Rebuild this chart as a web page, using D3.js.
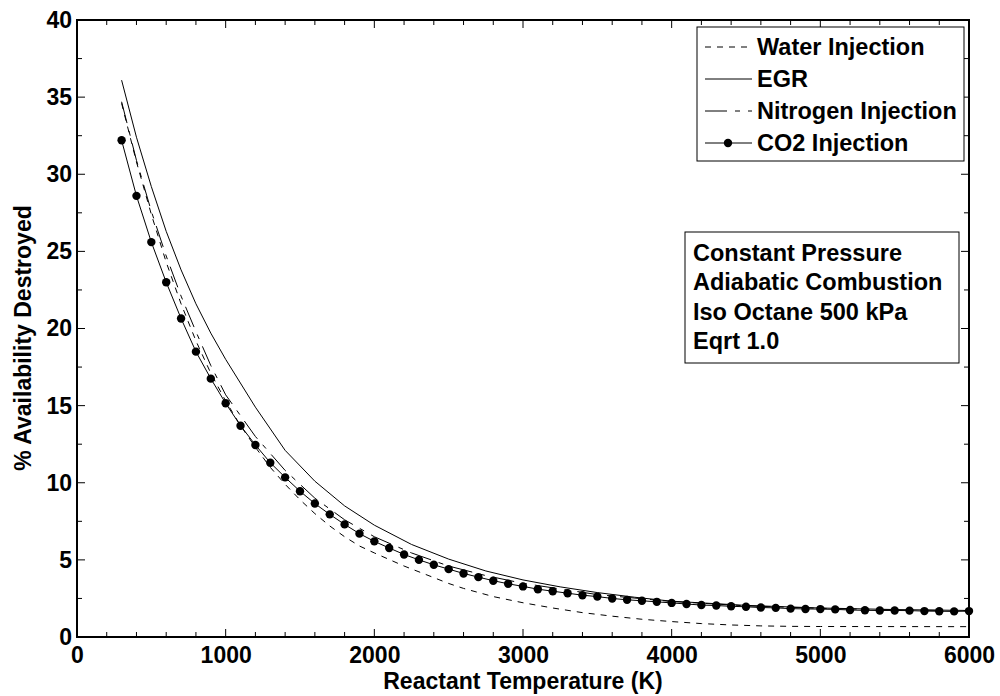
<!DOCTYPE html>
<html>
<head>
<meta charset="utf-8">
<script src="https://cdn.jsdelivr.net/npm/d3@7"></script>
<style>
  body { margin: 0; background: #fff; }
  svg text { font-family: "Liberation Sans", Arial, sans-serif; font-weight: bold; fill: #000; }
</style>
</head>
<body>
<svg id="chart"></svg>
<script>
// data
var co2Temps = [300, 400, 500, 600, 700, 800, 900, 1000, 1100, 1200, 1300, 1400, 1500, 1600, 1700, 1800, 1900, 2000,
    2100, 2200, 2300, 2400, 2500, 2600, 2700, 2800, 2900, 3000, 3100, 3200, 3300, 3400, 3500, 3600, 3700, 3800, 3900, 4000,
    4100, 4200, 4300, 4400, 4500, 4600, 4700, 4800, 4900, 5000, 5100, 5200, 5300, 5400, 5500, 5600, 5700, 5800, 5900, 6000];
var co2Values = [32.2, 28.6, 25.6, 23.0, 20.65, 18.5, 16.75, 15.15, 13.7, 12.45, 11.3, 10.35, 9.45, 8.65, 7.95, 7.3, 6.7, 6.2,
    5.77, 5.35, 5.0, 4.68, 4.4, 4.12, 3.88, 3.65, 3.45, 3.28, 3.1, 2.97, 2.84, 2.71, 2.62, 2.5, 2.41, 2.35, 2.28, 2.21,
    2.14, 2.07, 2.04, 1.99, 1.96, 1.91, 1.89, 1.84, 1.82, 1.81, 1.79, 1.75, 1.73, 1.72, 1.72, 1.71, 1.68, 1.67, 1.66, 1.68];

var egrTemps = [300, 400, 500, 600, 700, 800, 900, 1000, 1200, 1400, 1600, 1800, 2000, 2250, 2500, 2750, 3000, 3250, 3500, 3750, 4000, 4500, 5000, 5500, 6000];
var egrValues = [36.1, 32.4, 29.2, 26.3, 23.8, 21.6, 19.7, 18.0, 14.9, 12.1, 10.1, 8.5, 7.25, 6.0, 5.05, 4.28, 3.7, 3.25, 2.88, 2.58, 2.32, 2.05, 1.88, 1.78, 1.72];

var waterTemps = [300, 400, 500, 600, 700, 800, 900, 1000, 1100, 1200, 1300, 1400, 1500, 1600, 1700, 1800, 1900, 2000, 2200, 2400, 2500, 2600, 2800, 3000, 3200, 3400, 3600, 3800, 4000, 4200, 4400, 4600, 4800, 5000, 6000];
var waterValues = [34.6, 30.8, 27.4, 24.3, 21.6, 19.2, 17.1, 15.3, 13.7, 12.3, 11.0, 9.9, 8.9, 8.0, 7.2, 6.5, 5.9, 5.45, 4.6, 3.85, 3.47, 3.15, 2.62, 2.22, 1.88, 1.58, 1.35, 1.15, 1.0, 0.87, 0.78, 0.72, 0.69, 0.68, 0.67];

var nitroTemps = [300, 400, 500, 600, 700, 800, 900, 1000, 1200, 1400, 1600, 1800, 2000, 2250, 2500, 2750, 3000, 3500, 4000, 4500, 5000, 5500, 6000];
var nitroValues = [34.7, 30.9, 27.6, 24.7, 22.1, 19.8, 17.6, 15.7, 13.0, 10.8, 9.0, 7.6, 6.5, 5.45, 4.6, 3.98, 3.48, 2.75, 2.3, 2.02, 1.86, 1.76, 1.7];

var xTicks = [0, 1000, 2000, 3000, 4000, 5000, 6000];
var yTicks = [0, 5, 10, 15, 20, 25, 30, 35, 40];
var legendLabels = ['Water Injection', 'EGR', 'Nitrogen Injection', 'CO2 Injection'];
var noteLines = ['Constant Pressure', 'Adiabatic Combustion', 'Iso Octane 500 kPa', 'Eqrt 1.0'];

var width = 1000, height = 696;
var plotLeft = 77, plotRight = 969, plotTop = 20, plotBottom = 637;

var svg = d3.select('#chart').attr('width', width).attr('height', height);

var x = d3.scaleLinear().domain([0, 6000]).range([plotLeft, plotRight]);
var y = d3.scaleLinear().domain([0, 40]).range([plotBottom, plotTop]);

// 刻度（朝内，四边都有）
function drawTicks() {
    var minorX = d3.range(0, 6001, 200), minorY = d3.range(0, 40.01, 2.5);
    var g = svg.append('g').attr('stroke', '#000').attr('stroke-width', 1);
    minorX.forEach(function(v) {
        var len = v % 1000 === 0 ? 8 : 5;
        g.append('line').attr('x1', x(v)).attr('x2', x(v)).attr('y1', plotBottom).attr('y2', plotBottom - len);
        g.append('line').attr('x1', x(v)).attr('x2', x(v)).attr('y1', plotTop).attr('y2', plotTop + len);
    });
    minorY.forEach(function(v) {
        var len = v % 5 === 0 ? 8 : 5;
        g.append('line').attr('x1', plotLeft).attr('x2', plotLeft + len).attr('y1', y(v)).attr('y2', y(v));
        g.append('line').attr('x1', plotRight).attr('x2', plotRight - len).attr('y1', y(v)).attr('y2', y(v));
    });
}
drawTicks();

// 坐标轴标签
var xAxis = d3.axisBottom(x).tickValues(xTicks).tickSize(0).tickPadding(10).tickFormat(d3.format('d'));
var gx = svg.append('g').attr('transform', 'translate(0,' + plotBottom + ')').call(xAxis);
gx.select('.domain').remove();
gx.selectAll('text').attr('font-size', '23px').attr('font-family', null);

var yAxis = d3.axisLeft(y).tickValues(yTicks).tickSize(0).tickPadding(5).tickFormat(d3.format('d'));
var gy = svg.append('g').attr('transform', 'translate(' + plotLeft + ',0)').call(yAxis);
gy.select('.domain').remove();
gy.selectAll('text').attr('font-size', '23px').attr('font-family', null);

svg.append('text').attr('x', 523).attr('y', 689).attr('text-anchor', 'middle')
    .attr('font-size', '23px').text('Reactant Temperature (K)');
svg.append('text').attr('transform', 'translate(31,338) rotate(-90)').attr('text-anchor', 'middle')
    .attr('font-size', '23px').text('% Availability Destroyed');

// 曲线
var line = d3.line().x(function(d) { return x(d[0]); }).y(function(d) { return y(d[1]); });
var series = [
    {temps: waterTemps, values: waterValues, dash: '6,6'},
    {temps: egrTemps, values: egrValues, dash: null},
    {temps: nitroTemps, values: nitroValues, dash: '22,8,5,8'},
    {temps: co2Temps, values: co2Values, dash: null}
];
series.forEach(function(s) {
    svg.append('path')
        .datum(d3.zip(s.temps, s.values))
        .attr('fill', 'none')
        .attr('stroke', '#000')
        .attr('stroke-width', 1)
        .attr('stroke-dasharray', s.dash)
        .attr('d', line);
});
svg.selectAll('circle.co2')
    .data(d3.zip(co2Temps, co2Values))
    .enter()
    .append('circle')
    .attr('class', 'co2')
    .attr('cx', function(d) { return x(d[0]); })
    .attr('cy', function(d) { return y(d[1]); })
    .attr('r', 4.2)
    .attr('fill', '#000');

// 边框
svg.append('rect').attr('x', plotLeft).attr('y', plotTop).attr('width', plotRight - plotLeft).attr('height', plotBottom - plotTop)
    .attr('fill', 'none').attr('stroke', '#000').attr('stroke-width', 2);

// 图例
var legend = svg.append('g');
legend.append('rect').attr('x', 697).attr('y', 27).attr('width', 267).attr('height', 134)
    .attr('fill', '#fff').attr('stroke', '#000').attr('stroke-width', 1);
legendLabels.forEach(function(label, i) {
    var ly = 55 + i * 32;
    legend.append('line').attr('x1', 705).attr('x2', 752).attr('y1', ly - 8).attr('y2', ly - 8)
        .attr('stroke', '#000').attr('stroke-width', 1).attr('stroke-dasharray', series[i].dash);
    if (i === 3) {
        legend.append('circle').attr('cx', 728).attr('cy', ly - 8).attr('r', 4.2).attr('fill', '#000');
    }
    legend.append('text').attr('x', 757).attr('y', ly).attr('font-size', '23.5px').text(label);
});

// 说明框
var note = svg.append('g');
note.append('rect').attr('x', 685).attr('y', 232).attr('width', 274).attr('height', 131)
    .attr('fill', '#fff').attr('stroke', '#000').attr('stroke-width', 1);
noteLines.forEach(function(t, i) {
    note.append('text').attr('x', 693).attr('y', 261 + i * 29.4).attr('font-size', '23.5px').text(t);
});
</script>
</body>
</html>
